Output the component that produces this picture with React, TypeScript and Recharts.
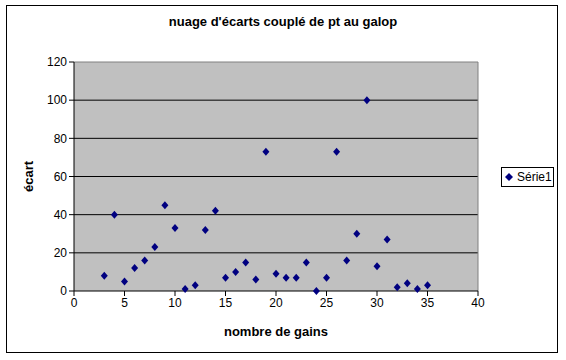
import {
  CartesianGrid,
  ReferenceLine,
  Scatter,
  ScatterChart,
  XAxis,
  YAxis,
} from 'recharts'

const gains = [
  3, 4, 5, 6, 7, 8, 9, 10, 11, 12, 13, 14, 15, 16, 17, 18, 19,
  20, 21, 22, 23, 24, 25, 26, 27, 28, 29, 30, 31, 32, 33, 34, 35,
]
const ecarts = [
  8, 40, 5, 12, 16, 23, 45, 33, 1, 3, 32, 42, 7, 10, 15, 6, 73,
  9, 7, 7, 15, 0, 7, 73, 16, 30, 100, 13, 27, 2, 4, 1, 3,
]
const xTicks = [0, 5, 10, 15, 20, 25, 30, 35, 40]
const yTicks = [0, 20, 40, 60, 80, 100, 120]

const points = gains.map((g, i) => ({ gains: g, ecart: ecarts[i] }))

const font = '"Liberation Sans", Arial, sans-serif'

function Diamond(props: any) {
  const { cx, cy } = props
  return (
    <polygon
      points={`${cx},${cy - 4} ${cx + 3.5},${cy} ${cx},${cy + 4} ${cx - 3.5},${cy}`}
      fill="#000080"
    />
  )
}

function YLabel(props: any) {
  const { viewBox } = props
  const x = viewBox.x + 28
  const y = viewBox.y + viewBox.height / 2
  return (
    <text
      x={x}
      y={y}
      transform={`rotate(-90 ${x} ${y})`}
      textAnchor="middle"
      dominantBaseline="central"
      fill="#000"
      fontSize={13}
      fontWeight="bold"
      fontFamily={font}
    >
      écart
    </text>
  )
}

function LegendBox() {
  return (
    <div
      style={{
        position: 'absolute',
        left: 501,
        top: 167,
        border: '1px solid #000',
        background: '#fff',
        width: 53,
        height: 20,
        display: 'flex',
        alignItems: 'center',
        fontFamily: font,
        fontSize: 12,
        color: '#000',
        boxSizing: 'border-box',
      }}
    >
      <svg width={14} height={10}>
        <polygon points="7,1 11,5 7,9 3,5" fill="#000080" />
      </svg>
      <span style={{ marginLeft: 1 }}>Série1</span>
    </div>
  )
}

export default function App() {
  return (
    <div
      style={{
        position: 'absolute',
        left: 0,
        top: 0,
        width: 566,
        height: 360,
        background: '#fff',
      }}
    >
      <div
        style={{
          position: 'absolute',
          left: 6,
          top: 5,
          width: 552,
          height: 348,
          border: '1px solid #000',
          boxSizing: 'border-box',
        }}
      />
      <div
        style={{
          position: 'absolute',
          left: 0,
          top: 14,
          width: 566,
          textAlign: 'center',
          fontFamily: font,
          fontSize: 13,
          fontWeight: 'bold',
        }}
      >
        nuage d'écarts couplé de pt au galop
      </div>
      <ScatterChart
        width={566}
        height={360}
        margin={{ top: 62, right: 88, bottom: 0, left: 0 }}
        style={{ position: 'absolute', left: 0, top: 0 }}
      >
        <CartesianGrid
          fill="#C0C0C0"
          stroke="#000"
          vertical={false}
          horizontalValues={[20, 40, 60, 80, 100]}
        />
        <XAxis
          type="number"
          dataKey="gains"
          domain={[0, 40]}
          ticks={xTicks}
          height={69}
          tickSize={5}
          axisLine={{ stroke: '#000' }}
          tickLine={{ stroke: '#000' }}
          tick={{ fill: '#000', fontSize: 12, fontFamily: font }}
          label={{
            value: 'nombre de gains',
            position: 'insideBottom',
            offset: 24,
            fill: '#000',
            fontSize: 13,
            fontWeight: 'bold',
            fontFamily: font,
          }}
        />
        <YAxis
          type="number"
          dataKey="ecart"
          domain={[0, 120]}
          ticks={yTicks}
          width={74}
          tickSize={5}
          axisLine={{ stroke: '#000' }}
          tickLine={{ stroke: '#000' }}
          tick={{ fill: '#000', fontSize: 12, fontFamily: font }}
          label={{ content: (p: any) => <YLabel {...p} /> }}
        />
        <ReferenceLine y={120} stroke="#808080" />
        <ReferenceLine x={40} stroke="#808080" />
        <Scatter
          name="Série1"
          data={points}
          shape={<Diamond />}
          isAnimationActive={false}
        />
      </ScatterChart>
      <LegendBox />
    </div>
  )
}
